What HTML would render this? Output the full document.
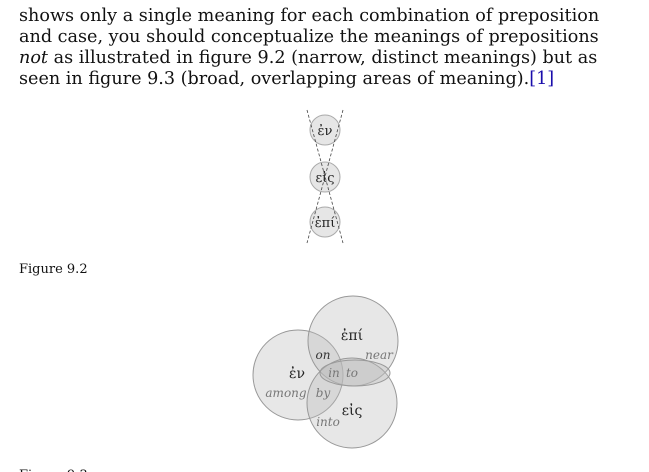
<!DOCTYPE html>
<html><head><meta charset="utf-8"><style>
html,body{margin:0;padding:0;background:#fff;width:649px;height:472px;overflow:hidden;position:relative}
.t{position:absolute;left:19px;font-family:"DejaVu Serif","Liberation Serif",serif;font-size:17.6px;white-space:nowrap;color:#111;line-height:21px}
.c{position:absolute;left:19px;font-family:"DejaVu Serif","Liberation Serif",serif;font-size:13px;white-space:nowrap;color:#111}
a{color:#1a0dab;text-decoration:none}
svg{position:absolute;left:0;top:0}
</style></head><body>
<div class="t" style="top:6px">shows only a single meaning for each combination of preposition</div>
<div class="t" style="top:27px">and case, you should conceptualize the meanings of prepositions</div>
<div class="t" style="top:48px"><i>not</i> as illustrated in figure 9.2 (narrow, distinct meanings) but as</div>
<div class="t" style="top:69px">seen in figure 9.3 (broad, overlapping areas of meaning).<a>[1]</a></div>
<div class="c" style="top:262px">Figure 9.2</div>
<div class="c" style="top:468px">Figure 9.3</div>
<svg width="649" height="472" font-family="DejaVu Serif, Liberation Serif, serif">
<g fill="#e6e6e6" stroke="#aaa" stroke-width="1">
<circle cx="325" cy="130" r="15"/><circle cx="325" cy="177" r="15"/><circle cx="325" cy="222" r="15"/>
</g>
<g stroke="#444" stroke-width="0.8" stroke-dasharray="3,2">
<line x1="307" y1="110" x2="343" y2="243"/><line x1="343" y1="110" x2="307" y2="243"/>
</g>
<g font-size="13" fill="#222" text-anchor="middle">
<text x="325" y="135">ἐν</text><text x="325" y="182">εἰς</text><text x="325" y="227">ἐπί</text>
</g>
<g fill="#bbb" fill-opacity="0.35" stroke="#999" stroke-width="1">
<circle cx="298" cy="375" r="45"/><circle cx="353" cy="341" r="45"/><circle cx="352" cy="403" r="45"/>
<ellipse cx="355" cy="373" rx="35" ry="13"/>
</g>
<g font-size="14" fill="#222" text-anchor="middle">
<text x="352" y="340">ἐπί</text><text x="297" y="378">ἐν</text><text x="352" y="415">εἰς</text>
</g>
<g font-size="12" font-style="italic" fill="#777" text-anchor="middle">
<text x="323" y="359" fill="#333">on</text><text x="379" y="359">near</text>
<text x="334" y="377">in</text><text x="352" y="377">to</text>
<text x="286" y="397">among</text><text x="323" y="397">by</text><text x="328" y="426">into</text>
</g>
</svg>
</body></html>
